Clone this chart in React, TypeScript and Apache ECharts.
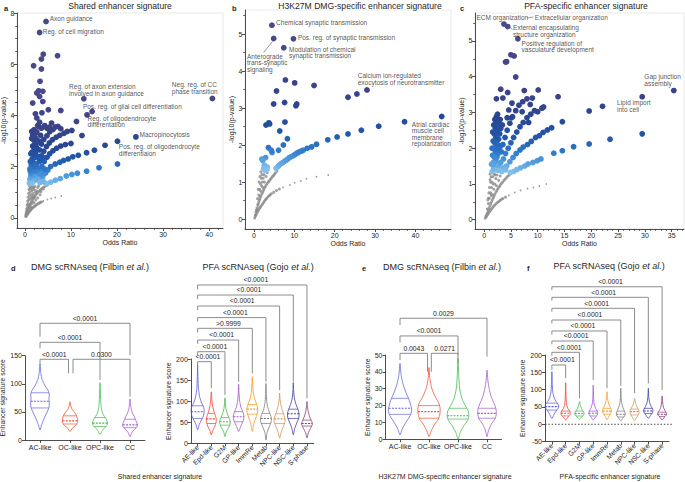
import React, { useEffect, useRef } from "react";
import * as echarts from "echarts";

const FONT = "'Liberation Sans', Arial, Helvetica, sans-serif";
const INK = "#262626";
const AXIS = "#3a3a3a";
const BRACKET = "#7f7f7f";

// ===== Panel a : Shared enhancer signature =====
const aGray = [
  [0.2, 0.05], [0.4, 0.15], [0.6, 0.26], [0.8, 0.37], [1.0, 0.47], [1.3, 0.58], [1.6, 0.68], [1.9, 0.78], [2.3, 0.88], [2.7, 0.97], [3.2, 1.06], [3.7, 1.14], [4.3, 1.22], [4.9, 1.28],
  [0.3, 0.06], [0.5, 0.12], [0.8, 0.2], [1.1, 0.27], [1.4, 0.33], [1.8, 0.4], [2.2, 0.46], [2.6, 0.52], [3.1, 0.57], [3.6, 0.62],
  [0.3, 0.2], [0.4, 0.35], [0.5, 0.5], [0.6, 0.65], [0.7, 0.8], [0.8, 0.95], [0.9, 1.1], [1.0, 1.25], [0.6, 0.4], [0.7, 0.55], [0.9, 0.7], [1.0, 0.85], [1.1, 1.0], [1.2, 1.15], [1.3, 1.28],
  [1.2, 0.75], [1.4, 0.9], [1.5, 1.05], [1.7, 1.2], [1.5, 0.78], [1.8, 0.95], [2.0, 1.1], [2.2, 1.22], [2.1, 0.8], [2.5, 1.05], [2.8, 1.18], [3.0, 1.25], [0.5, 0.3], [0.8, 0.5], [1.2, 0.45],
  [1.6, 0.55], [0.2, 0.12], [0.4, 0.25], [0.9, 0.4], [1.3, 0.4], [2.0, 0.6], [2.4, 0.7], [2.8, 0.78], [3.3, 0.9], [1.7, 0.85], [2.3, 1.0], [3.5, 1.02], [4.0, 1.12],
  [0.5, 0.2], [0.7, 0.32], [0.9, 0.42], [1.15, 0.53], [1.45, 0.63], [1.75, 0.73], [2.1, 0.83], [2.5, 0.93], [2.95, 1.02], [3.45, 1.1], [4.0, 1.18], [4.6, 1.25],
  [0.65, 0.16], [0.95, 0.24], [1.25, 0.3], [1.6, 0.37], [2.0, 0.43], [2.4, 0.49], [2.85, 0.55], [3.35, 0.6], [1.1, 1.15], [1.4, 1.25], [1.6, 1.1], [1.9, 1.18],
];
const aTiny = [[4.0, 0.65], [4.9, 0.71], [5.7, 0.75], [6.6, 0.79], [7.9, 0.85]];
const aSig = [
  [4.6, 1.34], [5.6, 1.39], [6.6, 1.47], [7.7, 1.53], [9.0, 1.63], [10.2, 1.69], [11.4, 1.74], [13.4, 1.82], [16.1, 1.95], [20.1, 2.1],
  [3.4, 1.45], [3.9, 1.6], [4.5, 1.75], [5.0, 1.87], [5.6, 2.0], [6.6, 2.1], [7.6, 2.17], [8.4, 2.24], [9.4, 2.3], [10.4, 2.38], [11.6, 2.44], [13.4, 2.54], [15.1, 2.64], [17.4, 2.83], [20.1, 2.99],
  [2.9, 1.6], [3.3, 1.8], [3.7, 2.0], [4.2, 2.2], [4.8, 2.36], [5.4, 2.5], [6.1, 2.62], [6.9, 2.72], [7.8, 2.8], [8.8, 2.86], [10.0, 2.9],
  [2.5, 1.7], [2.8, 1.95], [3.2, 2.2], [3.6, 2.42], [4.1, 2.6], [4.7, 2.78], [5.3, 2.92], [6.0, 3.05], [6.8, 3.15], [7.6, 3.22], [8.5, 3.3], [9.2, 3.37], [10.2, 3.41], [12.4, 3.21],
  [2.2, 1.8], [2.5, 2.1], [2.8, 2.4], [3.2, 2.65], [3.6, 2.88], [4.1, 3.06], [4.8, 3.2], [5.4, 3.36], [6.1, 3.45], [7.2, 3.57], [7.8, 3.48],
  [11.2, 3.76], [13.5, 4.02], [14.6, 4.15], [12.8, 4.65], [24.1, 3.16], [40.7, 4.66],
  [1.0, 1.35], [1.1, 1.5], [1.3, 1.65], [1.5, 1.8], [1.7, 1.95], [1.9, 2.15], [2.1, 2.35], [2.3, 2.55], [2.5, 2.75], [2.7, 2.95], [1.3, 1.4], [1.5, 1.55], [1.7, 1.7], [1.9, 1.85], [2.1, 2.0],
  [2.3, 1.6], [2.0, 1.45], [1.6, 1.35], [1.2, 1.8], [1.4, 2.05], [1.6, 2.3], [1.8, 2.5], [2.0, 2.7], [2.2, 2.9], [1.5, 2.55], [1.7, 2.8], [1.9, 3.05], [2.4, 3.1], [1.5, 3.1], [1.5, 3.37],
  [2.0, 3.44], [3.0, 3.57], [3.4, 3.22], [4.8, 3.5], [1.7, 3.22], [2.6, 3.35], [3.0, 3.0], [3.9, 2.35], [3.1, 2.3], [2.7, 1.5], [3.3, 1.38], [4.0, 1.42], [3.6, 1.72], [4.3, 1.9], [5.3, 3.54],
  [1.2, 2.2], [1.3, 2.5], [1.1, 1.9], [2.3, 3.3], [2.8, 3.6], [3.6, 3.5], [4.3, 3.6], [5.8, 3.7], [6.6, 3.55],
  [4.6, 7.67], [3.2, 7.24], [4.0, 6.39], [7.1, 6.33], [3.6, 6.2], [1.9, 5.94], [3.6, 5.81], [3.3, 5.33], [3.0, 4.96], [3.9, 4.94], [2.6, 4.87], [3.2, 4.74], [3.9, 4.54], [1.7, 4.48],
  [5.1, 4.22], [7.8, 4.19], [2.3, 4.06], [3.2, 3.73], [2.6, 3.9], [3.7, 4.1],
];
const aNotes: [number, number, string][] = [
  [5.4, 7.8, "Axon guidance"],
  [3.9, 7.28, "Reg. of cell migration"],
  [9.6, 5.0, "Reg. of axon extension\ninvolved in axon guidance"],
  [12.6, 4.36, "Pos. reg. of glial cell differentiation"],
  [13.6, 3.76, "Reg. of oligodendrocyte\ndifferentation"],
  [24.9, 3.25, "Macropinocytosis"],
  [20.4, 2.64, "Pos. reg. of oligodendrocyte\ndifferentiaion"],
  [31.9, 5.07, "Neg. reg. of CC\nphase transition"],
];
const aXTicks = [0, 10, 20, 30, 40];
const aYTicks = [0, 2, 4, 6, 8];

// ===== Panel b : H3K27M DMG-specific enhancer signature =====
const bGray = [
  [0.2, 0.03], [0.5, 0.18], [0.8, 0.3], [1.2, 0.45], [1.5, 0.55], [2.0, 0.68], [2.4, 0.78], [2.8, 0.87], [3.3, 0.96], [3.8, 1.03], [4.3, 1.1], [4.8, 1.17], [5.3, 1.24], [5.7, 1.29],
  [0.4, 0.08], [0.8, 0.17], [1.2, 0.25], [1.6, 0.32], [2.1, 0.4], [2.6, 0.48], [3.1, 0.55], [3.7, 0.62], [4.3, 0.68], [4.9, 0.72], [5.6, 0.77], [6.3, 0.81],
  [1.5, 0.6], [1.7, 0.75], [1.9, 0.9], [2.1, 1.0], [2.3, 1.1], [2.5, 1.2], [1.6, 0.95], [1.8, 1.1], [2.0, 1.2], [1.4, 0.8], [1.2, 0.65], [1.0, 0.4], [0.7, 0.25], [2.2, 0.85], [2.6, 1.0],
  [3.0, 1.15], [3.3, 1.25], [1.3, 1.0], [1.5, 1.15], [1.7, 1.27], [0.9, 0.55], [1.1, 0.8],
  [0.35, 0.1], [0.65, 0.24], [1.0, 0.37], [1.35, 0.5], [1.75, 0.62], [2.2, 0.73], [2.6, 0.83], [3.05, 0.92], [3.55, 1.0], [4.05, 1.07], [4.55, 1.14], [5.05, 1.2],
  [0.6, 0.12], [1.0, 0.21], [1.4, 0.29], [1.85, 0.36], [2.35, 0.44], [2.85, 0.52], [3.4, 0.59], [4.0, 0.65],
];
const bTiny = [[7.2, 0.86], [8.9, 0.92], [10.1, 0.98], [11.6, 1.03], [13.0, 1.09], [15.5, 1.14], [18.4, 1.19]];
const bSig = [
  [4.46, 5.24], [4.9, 4.88], [9.8, 4.87], [7.4, 4.63], [7.8, 3.76], [10.1, 3.68], [14.9, 3.61], [5.6, 3.46], [4.9, 3.11], [7.6, 3.15], [10.4, 3.06], [10.6, 3.11],
  [3.7, 2.6], [3.0, 2.54], [3.9, 2.57], [7.7, 2.62], [6.4, 2.38], [8.3, 2.17], [7.3, 2.0], [3.6, 1.93], [4.5, 1.8], [4.3, 1.86], [6.1, 1.86],
  [2.9, 1.66], [2.0, 1.62], [2.2, 1.58], [2.6, 1.45], [3.0, 1.42], [2.4, 1.36], [3.3, 1.4], [2.7, 1.32], [3.2, 1.33],
  [23.3, 3.29], [25.5, 3.38], [28.0, 3.49],
  [18.3, 2.14], [20.6, 2.22], [23.3, 2.3], [26.6, 2.4], [30.9, 2.51], [37.3, 2.63], [46.5, 2.77],
  [5.5, 1.37], [6.0, 1.42], [6.3, 1.46], [6.8, 1.5], [7.2, 1.53], [7.6, 1.56], [8.0, 1.59], [8.4, 1.62], [8.8, 1.66], [9.2, 1.68], [9.7, 1.71], [10.1, 1.74], [10.5, 1.77], [10.9, 1.79],
  [11.3, 1.82], [11.8, 1.84], [12.2, 1.86], [13.2, 1.91], [14.3, 1.95], [15.5, 2.02],
];
const bNotes: [number, number, string][] = [
  [5.5, 5.31, "Chemical synaptic transmission"],
  [10.9, 4.9, "Pos. reg. of synaptic transmission"],
  [8.7, 4.5, "Modulation of chemical\nsynaptic transmission"],
  [-1.7, 4.22, "Anterograde\ntrans-synaptic\nsignaling"],
  [25.7, 3.78, "Calcium ion-regulated\nexocytosis of neurotransmitter"],
  [39.1, 2.3, "Atrial cardiac\nmuscle cell\nmembrane\nrepolarization"],
];
const bLeaders = [[[4.6, 4.8], [2.4, 4.5]]];
const bXTicks = [0, 10, 20, 30, 40];
const bYTicks = [0, 1, 2, 3, 4, 5];

// ===== Panel c : PFA-specific enhancer signature =====
const cGray = [
  [0.2, 0.04], [0.5, 0.15], [0.8, 0.27], [1.1, 0.39], [1.4, 0.5], [1.7, 0.61], [2.0, 0.71], [2.4, 0.82], [2.8, 0.92], [3.2, 1.01], [3.7, 1.1], [4.2, 1.18], [4.7, 1.25],
  [0.4, 0.08], [0.8, 0.17], [1.2, 0.26], [1.6, 0.34], [2.0, 0.41], [2.5, 0.48], [3.0, 0.54], [3.5, 0.59], [4.0, 0.63],
  [0.6, 0.3], [0.8, 0.45], [1.0, 0.6], [1.2, 0.75], [1.4, 0.9], [1.5, 1.05], [1.6, 1.2], [1.0, 0.9], [1.2, 1.05], [1.3, 1.2], [0.9, 0.75], [1.8, 0.85], [2.0, 1.0], [2.2, 1.15],
  [2.4, 1.25], [1.9, 1.28], [2.7, 1.1], [3.0, 1.22], [1.1, 1.28], [0.7, 0.55], [1.5, 0.7], [2.3, 0.95],
  [0.35, 0.1], [0.65, 0.21], [0.95, 0.33], [1.25, 0.45], [1.55, 0.56], [1.85, 0.66], [2.2, 0.77], [2.6, 0.87], [3.0, 0.96], [3.45, 1.05], [3.95, 1.14], [4.45, 1.22],
  [0.6, 0.13], [1.0, 0.22], [1.4, 0.3], [1.8, 0.38], [2.25, 0.45], [2.75, 0.51], [3.25, 0.57], [0.8, 0.6], [1.1, 1.12], [1.35, 0.68], [1.7, 1.0], [2.0, 1.25],
];
const cTiny = [[4.6, 0.68], [5.7, 0.76], [6.8, 0.82], [8.1, 0.87], [9.2, 0.9], [10.3, 0.94], [11.6, 1.0]];
const cSig = [
  [3.7, 5.47], [4.4, 5.4], [6.3, 5.06], [5.0, 4.61], [5.6, 4.58], [4.0, 4.41], [4.2, 4.42], [5.9, 3.99],
  [3.1, 3.65], [4.4, 3.56], [7.5, 3.61], [10.1, 3.63], [2.3, 3.38], [3.5, 3.4], [5.2, 3.26], [9.0, 3.4], [8.6, 3.22], [13.8, 3.44], [10.8, 3.12], [11.1, 3.15], [4.6, 3.07], [7.1, 3.02],
  [10.0, 3.02], [2.3, 2.88], [2.4, 2.85], [4.3, 2.85], [5.1, 2.85], [8.3, 2.72], [14.6, 2.74],
  [19.6, 3.04], [22.1, 3.17], [29.5, 3.44], [35.4, 3.61], [29.5, 2.4], [23.5, 2.25], [19.6, 2.12], [16.7, 2.04], [14.6, 1.93], [13.0, 1.86],
  [4.9, 1.32], [5.5, 1.35], [6.1, 1.4], [6.8, 1.45], [7.6, 1.5], [8.2, 1.56], [9.1, 1.6], [9.9, 1.65], [10.6, 1.7],
  [4.2, 1.5], [4.8, 1.62], [5.4, 1.74], [6.0, 1.85], [6.7, 1.95], [7.3, 2.03], [8.1, 2.1], [8.8, 2.19], [9.6, 2.3], [10.3, 2.35], [11.0, 2.44], [11.8, 2.51], [12.6, 2.57],
  [3.6, 1.7], [4.0, 1.85], [4.5, 2.0], [5.0, 2.15], [5.5, 2.3], [6.1, 2.45], [6.7, 2.6], [7.3, 2.72], [8.0, 2.85], [8.7, 2.95], [9.4, 3.05],
  [3.2, 1.9], [3.5, 2.1], [3.9, 2.3], [4.3, 2.5], [4.8, 2.7], [5.3, 2.88], [5.9, 3.05], [6.5, 3.2], [7.2, 3.3], [8.0, 3.38],
  [1.5, 1.35], [1.8, 1.45], [2.0, 1.55], [2.2, 1.65], [2.4, 1.75], [2.6, 1.85], [2.8, 1.95], [3.0, 2.05], [1.7, 1.6], [1.9, 1.75], [2.1, 1.9], [2.3, 2.0], [2.5, 2.1], [2.7, 2.25],
  [2.9, 2.4], [3.1, 2.55], [1.6, 1.8], [1.8, 2.0], [2.0, 2.15], [2.2, 2.3], [2.4, 2.45], [2.6, 2.6], [2.8, 2.7], [1.5, 2.0], [1.7, 2.2], [1.9, 2.4], [2.1, 2.55], [2.3, 2.7], [1.6, 2.45],
  [1.8, 2.65], [2.0, 2.8], [2.5, 2.95], [3.0, 2.8], [3.4, 2.65], [1.4, 1.55], [2.3, 1.4], [2.7, 1.5], [3.1, 1.6], [3.5, 1.45], [3.3, 1.35], [2.6, 1.38], [4.0, 1.4],
];
const cNotes: [number, number, string][] = [
  [-1.42, 5.66, "ECM organization"],
  [9.46, 5.66, "Extracellular organization"],
  [5.4, 5.27, "External encapsulating\nstructure organization"],
  [7.0, 4.84, "Positive regulation of\nvasculature development"],
  [29.9, 3.91, "Gap junction\nassembly"],
  [24.8, 3.18, "Lipid import\ninto cell"],
];
const cLeaders = [[[8.0, 5.64], [9.2, 5.67]], [[4.6, 5.4], [5.3, 5.32]]];
const cXTicks = [0, 5, 10, 15, 20, 25, 30, 35];
const cYTicks = [0, 1, 2, 3, 4, 5];

// ===== Violin panels =====
const dmgCats = ["AC-like", "OC-like", "OPC-like", "CC"];
const pfaCats = ["AE-like", "Epd-like", "G2M", "GP-like", "ImmRe", "Metab", "NPC-like", "NSC-like", "S-phase"];
const dmgColors = ["#6666d8", "#ee5535", "#45bb50", "#a35ccb"];
const pfaColors = ["#5b5bd6", "#ee4433", "#44b848", "#9a56cc", "#f7951f", "#7a7a7a", "#c99560", "#3d3ca0", "#8c3a80"];

// d (left): DMG scRNAseq, shared signature  [value, relative half width]
const dShapes = [
  [[18, 0], [28, 0.12], [40, 0.3], [50, 0.48], [58, 0.6], [66, 0.62], [74, 0.6], [82, 0.62], [90, 0.5], [98, 0.3], [108, 0.14], [118, 0.06], [135, 0]],
  [[15, 0], [21, 0.15], [26, 0.38], [31, 0.5], [36, 0.5], [42, 0.46], [48, 0.34], [54, 0.16], [60, 0.06], [68, 0]],
  [[10, 0], [17, 0.15], [23, 0.36], [28, 0.5], [33, 0.48], [39, 0.38], [45, 0.22], [55, 0.1], [68, 0.05], [85, 0.03], [102, 0]],
  [[6, 0], [13, 0.12], [19, 0.3], [24, 0.48], [29, 0.48], [35, 0.38], [41, 0.3], [48, 0.16], [58, 0.06], [73, 0]],
];
const dQuart = [[57, 69, 84], [28.5, 34, 43], [24, 30, 40], [22, 27, 37]];
// [from, to, level, left leg end, right leg end, p, dxFrom, dxTo]
const dBrackets: [number, number, number, number, number, string, number, number][] = [
  [0, 3, 207.7, 183.8, 151, "<0.0001", 0, 0],
  [0, 2, 173.8, 163, 106.8, "<0.0001", 0, 0],
  [0, 1, 143.6, 133.5, 118.7, "<0.0001", 0, -0.05],
  [1, 3, 143.6, 118.7, 77, "0.0300", 0.1, 0],
];

// d (right): PFA scRNAseq, shared signature
const dpShapes = [
  [[32, 0], [45, 0.25], [55, 0.55], [65, 0.85], [75, 0.95], [85, 0.9], [95, 0.6], [110, 0.3], [130, 0.12], [155, 0.05], [186, 0]],
  [[20, 0], [30, 0.2], [40, 0.5], [50, 0.7], [58, 0.72], [66, 0.6], [75, 0.4], [88, 0.2], [100, 0.1], [122, 0]],
  [[16, 0], [28, 0.2], [38, 0.55], [46, 0.75], [52, 0.78], [60, 0.6], [70, 0.35], [82, 0.15], [95, 0.06], [108, 0]],
  [[28, 0], [40, 0.3], [50, 0.6], [58, 0.75], [65, 0.78], [75, 0.6], [85, 0.35], [100, 0.15], [120, 0.05], [140, 0]],
  [[28, 0], [45, 0.2], [60, 0.5], [72, 0.75], [82, 0.8], [92, 0.65], [105, 0.35], [120, 0.15], [140, 0.05], [158, 0]],
  [[8, 0], [25, 0.15], [38, 0.45], [50, 0.75], [58, 0.8], [68, 0.65], [80, 0.35], [95, 0.15], [115, 0.05], [142, 0]],
  [[12, 0], [25, 0.2], [38, 0.5], [50, 0.78], [58, 0.8], [66, 0.65], [78, 0.4], [92, 0.18], [105, 0.06], [119, 0]],
  [[20, 0], [35, 0.2], [48, 0.5], [60, 0.8], [70, 0.85], [80, 0.7], [92, 0.4], [105, 0.18], [125, 0.05], [144, 0]],
  [[13, 0], [25, 0.2], [35, 0.5], [43, 0.75], [48, 0.78], [55, 0.6], [65, 0.35], [78, 0.15], [90, 0.05], [99, 0]],
];
const dpQuart = [[59, 75, 89], [47, 58, 71], [43, 51, 61], [51, 63, 75], [69, 81, 92], [47, 59, 71], [47, 58, 70], [59, 70, 81], [41, 47, 55]];
const dpBrackets: [number, number, number, number, number, string, number, number][] = [
  [0, 8, 375.6, 365, 106.8, "<0.0001", 0, 0],
  [0, 7, 351.8, 342, 146, "<0.0001", 0, 0],
  [0, 6, 325.7, 316, 126, "<0.0001", 0, 0],
  [0, 5, 298.2, 289, 146, "<0.0001", 0, 0],
  [0, 4, 272.8, 263, 166, ">0.9999", 0, 0],
  [0, 3, 245, 236, 146, "<0.0001", 0, 0],
  [0, 2, 217.3, 208, 114.6, "<0.0001", 0, 0],
  [0, 1, 193.6, 184, 130.5, "<0.0001", 0, 0],
];

// e: DMG scRNAseq, H3K27M DMG-specific signature
const eShapes = [
  [[2.6, 0], [6, 0.15], [10, 0.4], [14, 0.7], [17, 0.8], [20, 0.75], [24, 0.6], [28, 0.4], [33, 0.2], [38, 0.08], [45, 0]],
  [[1.6, 0], [5, 0.15], [9, 0.4], [12, 0.65], [15, 0.75], [18, 0.77], [21, 0.7], [25, 0.45], [30, 0.2], [36, 0.06], [42.5, 0]],
  [[0, 0], [4, 0.15], [8, 0.4], [11, 0.65], [14, 0.75], [17, 0.7], [20, 0.5], [24, 0.28], [30, 0.12], [38, 0.05], [48, 0]],
  [[1.6, 0], [5, 0.1], [9, 0.3], [12, 0.55], [15, 0.64], [18, 0.62], [21, 0.5], [25, 0.3], [30, 0.15], [35, 0.06], [41, 0]],
];
const eQuart = [[14.8, 18.4, 24.3], [12.5, 16.4, 20], [12, 14, 18.4], [12.5, 15.4, 18.4]];
const eBrackets: [number, number, number, number, number, string, number, number][] = [
  [0, 3, 71.8, 67.8, 49, "0.0029", 0, 0],
  [0, 2, 61.3, 57.5, 50, "<0.0001", 0, 0],
  [0, 1, 51, 47, 40.1, "0.0043", 0, -0.05],
  [1, 2, 51, 40.1, 45.3, "0.0271", 0.08, 0],
];

// f: PFA scRNAseq, PFA-specific signature
const fShapes = [
  [[17, 0], [28, 0.3], [38, 0.6], [46, 0.9], [52, 1.0], [58, 0.9], [66, 0.6], [78, 0.3], [95, 0.12], [120, 0.05], [152, 0]],
  [[12.5, 0], [20, 0.3], [26, 0.6], [32, 0.68], [38, 0.6], [45, 0.35], [55, 0.15], [70, 0.08], [90, 0.04], [120, 0]],
  [[15, 0], [20, 0.25], [25, 0.55], [30, 0.68], [35, 0.62], [42, 0.4], [50, 0.2], [58, 0.08], [65, 0]],
  [[12.5, 0], [20, 0.3], [26, 0.55], [32, 0.65], [38, 0.58], [46, 0.35], [58, 0.15], [75, 0.06], [95, 0.03], [113, 0]],
  [[12.5, 0], [22, 0.25], [30, 0.5], [37, 0.65], [44, 0.6], [52, 0.4], [62, 0.2], [75, 0.08], [94, 0]],
  [[10, 0], [18, 0.3], [24, 0.55], [30, 0.65], [36, 0.58], [44, 0.4], [55, 0.2], [70, 0.07], [85, 0.03], [104, 0]],
  [[10.5, 0], [18, 0.25], [26, 0.5], [34, 0.65], [40, 0.62], [47, 0.45], [55, 0.25], [65, 0.1], [75, 0]],
  [[17, 0], [25, 0.3], [32, 0.55], [38, 0.68], [44, 0.62], [52, 0.4], [62, 0.2], [78, 0.07], [104, 0]],
  [[12.5, 0], [20, 0.3], [25, 0.55], [29, 0.65], [34, 0.6], [40, 0.4], [50, 0.18], [65, 0.06], [82, 0]],
];
const fQuart = [[41, 51, 61], [24, 32, 38], [24, 31, 38], [24, 32, 38], [29, 38, 46], [21, 29, 38], [27, 36.5, 44], [31, 38.5, 46], [22, 29, 35]];
const fBrackets: [number, number, number, number, number, string, number, number][] = [
  [0, 8, 397, 387, 99, "<0.0001", 0, 0],
  [0, 7, 366.5, 357, 118, "<0.0001", 0, 0],
  [0, 6, 334.8, 325, 89.5, "<0.0001", 0, 0],
  [0, 5, 301, 291, 111, "<0.0001", 0, 0],
  [0, 4, 269.3, 259, 104, "<0.0001", 0, 0],
  [0, 3, 240.4, 231, 128, "<0.0001", 0, 0],
  [0, 2, 207.8, 198, 75, "<0.0001", 0, 0],
  [0, 1, 171.1, 157, 133, "<0.0001", 0, 0],
];

// ---------- helpers ----------
const SIG_STOPS: [number, number[]][] = [
  [1.3, [140, 196, 236]],
  [1.6, [82, 158, 222]],
  [1.9, [46, 120, 200]],
  [2.3, [34, 88, 170]],
  [2.8, [42, 70, 146]],
  [3.5, [58, 67, 136]],
  [5.0, [74, 73, 136]],
];
function sigColor(y: number): string {
  const rgb = (c: number[]) => `rgb(${c.map((v) => Math.round(v)).join(",")})`;
  if (y <= SIG_STOPS[0][0]) return rgb(SIG_STOPS[0][1]);
  for (let i = 1; i < SIG_STOPS.length; i++) {
    if (y <= SIG_STOPS[i][0]) {
      const [y0, c0] = SIG_STOPS[i - 1];
      const [y1, c1] = SIG_STOPS[i];
      const t = (y - y0) / (y1 - y0);
      return rgb(c0.map((v, k) => v + (c1[k] - v) * t));
    }
  }
  return rgb(SIG_STOPS[SIG_STOPS.length - 1][1]);
}
function steps(from: number, to: number, step: number, skip: number[]) {
  const out: number[] = [];
  for (let v = from; v <= to + 1e-9; v += step) {
    const r = +v.toFixed(4);
    if (!skip.some((m) => Math.abs(m - r) < 1e-6)) out.push(r);
  }
  return out;
}
const txt = (extra: any = {}) => ({ fontFamily: FONT, color: INK, ...extra });

function buildOption() {
  const grids: any[] = [];
  const xAxes: any[] = [];
  const yAxes: any[] = [];
  const series: any[] = [];

  function scatterPanel(p: any) {
    const g = grids.length;
    grids.push({
      left: p.box[0], top: p.box[1], width: p.box[2], height: p.box[3],
      show: true, borderColor: "#e3e3e3", borderWidth: 0.8, backgroundColor: "transparent",
      containLabel: false, outerBoundsMode: "none",
    });
    const xi = xAxes.length;
    const yi = yAxes.length;
    const line = { show: true, onZero: false, lineStyle: { color: AXIS, width: 0.9 } };
    xAxes.push({
      gridIndex: g, type: "value", position: "bottom", min: p.x[0], max: p.x[1],
      axisLine: line, splitLine: { show: false },
      axisTick: { show: true, customValues: p.xTicks, length: 3, lineStyle: { color: AXIS, width: 0.9 } },
      axisLabel: { customValues: p.xTicks, fontSize: 7, margin: 2.5, ...txt() },
      name: "Odds Ratio", nameLocation: "middle", nameGap: 11, nameTextStyle: txt({ fontSize: 7 }),
    });
    xAxes.push({
      gridIndex: g, type: "value", position: "bottom", min: p.x[0], max: p.x[1],
      axisLine: { show: false, onZero: false }, splitLine: { show: false }, axisLabel: { show: false },
      axisTick: { show: true, customValues: steps(0, p.x[1], p.xMinor, p.xTicks), length: 1.8, lineStyle: { color: AXIS, width: 0.8 } },
    });
    yAxes.push({
      gridIndex: g, type: "value", position: "left", min: p.y[0], max: p.y[1],
      axisLine: line, splitLine: { show: false },
      axisTick: { show: true, customValues: p.yTicks, length: 3, lineStyle: { color: AXIS, width: 0.9 } },
      axisLabel: { customValues: p.yTicks, fontSize: 7, margin: 2.5, ...txt() },
      name: "-log10(p-value)", nameLocation: "middle", nameGap: 9, nameRotate: 90, nameTextStyle: txt({ fontSize: 7 }),
    });
    yAxes.push({
      gridIndex: g, type: "value", position: "left", min: p.y[0], max: p.y[1],
      axisLine: { show: false, onZero: false }, splitLine: { show: false }, axisLabel: { show: false },
      axisTick: { show: true, customValues: steps(0, p.y[1], p.yMinor, p.yTicks), length: 1.8, lineStyle: { color: AXIS, width: 0.8 } },
    });
    const ax = { xAxisIndex: xi, yAxisIndex: yi, silent: true };
    series.push({ type: "scatter", ...ax, data: p.gray, symbolSize: 3, itemStyle: { color: "#8b8b8b" } });
    series.push({ type: "scatter", ...ax, data: p.tiny, symbolSize: 1.8, itemStyle: { color: "#8b8b8b" } });
    series.push({
      type: "scatter", ...ax, data: p.sig, symbolSize: 5.8,
      itemStyle: { color: (d: any) => sigColor(d.value[1]), opacity: 1 },
    });
    (p.leaders || []).forEach((seg: number[][]) => {
      series.push({ type: "line", ...ax, data: seg, symbol: "none", lineStyle: { color: "#555", width: 0.6 } });
    });
    series.push({
      type: "scatter", ...ax, symbolSize: 0,
      data: p.notes.map((n: any) => ({ value: [n[0], n[1]], label: { formatter: n[2] } })),
      label: { show: true, position: "right", distance: 0, fontSize: 6.5, lineHeight: 6.6, ...txt({ color: "#1e1e1e" }) },
    });
  }

  scatterPanel({ box: [17, 13, 206, 215], x: [-1.7, 43], y: [-0.4, 8], xTicks: aXTicks, yTicks: aYTicks, xMinor: 2, yMinor: 0.5, gray: aGray, tiny: aTiny, sig: aSig, notes: aNotes });
  scatterPanel({ box: [245, 10, 206, 219], x: [-2.2, 48.8], y: [-0.27, 5.65], xTicks: bXTicks, yTicks: bYTicks, xMinor: 2, yMinor: 0.5, gray: bGray, tiny: bTiny, sig: bSig, notes: bNotes, leaders: bLeaders });
  scatterPanel({ box: [475, 13, 209, 216], x: [-1.7, 37.3], y: [-0.26, 5.78], xTicks: cXTicks, yTicks: cYTicks, xMinor: 1, yMinor: 0.5, gray: cGray, tiny: cTiny, sig: cSig, notes: cNotes, leaders: cLeaders });

  function violinPanel(p: any) {
    const g = grids.length;
    grids.push({ left: p.box[0], top: p.box[1], width: p.box[2], height: p.box[3], containLabel: false, outerBoundsMode: "none" });
    const xi = xAxes.length;
    const yi = yAxes.length;
    xAxes.push({
      gridIndex: g, type: "category", data: p.cats, boundaryGap: true,
      axisLine: { show: true, onZero: false, lineStyle: { color: AXIS, width: 0.9 } },
      axisTick: { show: true, alignWithLabel: true, length: 3, lineStyle: { color: AXIS, width: 0.9 } },
      axisLabel: p.rotate
        ? { rotate: 45, fontSize: 6.8, margin: 3, interval: 0, ...txt() }
        : { fontSize: 7, margin: 4, interval: 0, ...txt() },
      splitLine: { show: false },
    });
    yAxes.push({
      gridIndex: g, type: "value", min: p.y[0], max: p.y[1], interval: p.y[2],
      axisLine: { show: true, onZero: false, lineStyle: { color: AXIS, width: 0.9 } },
      axisTick: { show: true, length: 3, lineStyle: { color: AXIS, width: 0.9 } },
      axisLabel: { fontSize: 7, margin: 3, ...txt() },
      splitLine: { show: false },
      name: "Enhancer signature score", nameLocation: "middle", nameRotate: 90, nameGap: p.nameGap,
      nameTextStyle: txt({ fontSize: 6.8 }),
    });
    const shapes = p.shapes;
    const quarts = p.quarts;
    const colors = p.colors;
    series.push({
      type: "custom", xAxisIndex: xi, yAxisIndex: yi, silent: true, clip: false,
      data: p.cats.map((_: string, i: number) => [i, shapes[i][shapes[i].length - 1][0]]),
      renderItem: (params: any, api: any) => {
        const i = params.dataIndex;
        const shape: number[][] = shapes[i];
        const cx = api.coord([i, 0])[0];
        const half = api.size([1, 0])[0] / 2;
        const right = shape.map(([v, w]) => [cx + w * half, api.coord([i, v])[1]]);
        const left = shape.slice(1, -1).reverse().map(([v, w]) => [cx - w * half, api.coord([i, v])[1]]);
        const widthAt = (val: number) => {
          for (let k = 1; k < shape.length; k++) {
            if (val <= shape[k][0]) {
              const t = (val - shape[k - 1][0]) / (shape[k][0] - shape[k - 1][0]);
              return shape[k - 1][1] + (shape[k][1] - shape[k - 1][1]) * t;
            }
          }
          return 0;
        };
        const color = colors[i];
        const children: any[] = [];
        if (p.zeroLine && i === 0) {
          const cs = params.coordSys;
          const y0 = api.coord([0, 0])[1];
          children.push({
            type: "line", shape: { x1: cs.x, y1: y0, x2: cs.x + cs.width + 4, y2: y0 },
            style: { stroke: "#333", lineWidth: 0.9, lineDash: [1.5, 1.8] },
          });
        }
        children.push({
          type: "polygon", shape: { points: right.concat(left), smooth: 0.25 },
          style: { fill: "none", stroke: color, lineWidth: 0.8 },
        });
        quarts[i].forEach((q: number, k: number) => {
          const w = widthAt(q) * half;
          const y = api.coord([i, q])[1];
          children.push({
            type: "line", shape: { x1: cx - w, y1: y, x2: cx + w, y2: y },
            style: { stroke: color, lineWidth: k === 1 ? 1.1 : 0.7, lineDash: k === 1 ? [2, 1.2] : null },
          });
        });
        return { type: "group", children };
      },
    });
    const brackets = p.brackets;
    series.push({
      type: "custom", xAxisIndex: xi, yAxisIndex: yi, silent: true, clip: false,
      data: brackets.map((b: any) => [b[0], b[2]]),
      renderItem: (params: any, api: any) => {
        const [from, to, level, legA, legB, text, dxA, dxB] = brackets[params.dataIndex];
        const band = api.size([1, 0])[0];
        const xA = api.coord([from, 0])[0] + dxA * band;
        const xB = api.coord([to, 0])[0] + dxB * band;
        const yL = api.coord([from, level])[1];
        const yA = api.coord([from, legA])[1];
        const yB = api.coord([from, legB])[1];
        return {
          type: "group",
          children: [
            { type: "polyline", shape: { points: [[xA, yA], [xA, yL], [xB, yL], [xB, yB]] }, style: { fill: "none", stroke: BRACKET, lineWidth: 0.9 } },
            { type: "text", x: (xA + xB) / 2 + p.labelDx, y: yL - 1.6, style: { text, fill: INK, fontSize: 6.8, fontFamily: FONT, align: "center", verticalAlign: "bottom" } },
          ],
        };
      },
    });
  }

  violinPanel({ box: [25, 355.7, 120, 84.3], cats: dmgCats, colors: dmgColors, y: [0, 150, 50], shapes: dShapes, quarts: dQuart, brackets: dBrackets, nameGap: 15, labelDx: 0 });
  violinPanel({ box: [190.8, 359, 123, 84.3], cats: pfaCats, colors: pfaColors, y: [0, 200, 50], shapes: dpShapes, quarts: dpQuart, brackets: dpBrackets, nameGap: 15, labelDx: 3.5, rotate: true });
  violinPanel({ box: [385.5, 355, 116, 84.3], cats: dmgCats, colors: dmgColors, y: [0, 50, 10], shapes: eShapes, quarts: eQuart, brackets: eBrackets, nameGap: 15, labelDx: 0 });
  violinPanel({ box: [545, 355, 124, 86.6], cats: pfaCats, colors: pfaColors, y: [-50, 200, 50], shapes: fShapes, quarts: fQuart, brackets: fBrackets, nameGap: 15, labelDx: 3.5, rotate: true, zeroLine: true });

  const T = (x: number, y: number, text: string, size: number, extra: any = {}) => ({
    type: "text", x, y, silent: true,
    style: { text, fontSize: size, fontFamily: FONT, fill: INK, align: "center", verticalAlign: "middle", ...extra },
  });
  const richTitle = (x: number, y: number, pre: string) =>
    T(x, y, `{n|${pre} }{i|et al.}{n|)}`, 9, {
      rich: {
        n: { fontSize: 9, fontFamily: FONT, fill: INK },
        i: { fontSize: 9, fontFamily: FONT, fill: INK, fontStyle: "italic" },
      },
    });
  const graphic = [
    T(120, 6, "Shared enhancer signature", 8.6),
    T(360, 6, "H3K27M DMG-specific enhancer signature", 8.6),
    T(586, 6, "PFA-specific enhancer signature", 8.6),
    T(4, 8, "a", 7.5, { fontWeight: "bold", align: "left" }),
    T(232, 8, "b", 7.5, { fontWeight: "bold", align: "left" }),
    T(460, 8, "c", 7.5, { fontWeight: "bold", align: "left" }),
    T(11, 268, "d", 7.5, { fontWeight: "bold", align: "left" }),
    T(362, 268, "e", 7.5, { fontWeight: "bold", align: "left" }),
    T(527, 268, "f", 7.5, { fontWeight: "bold", align: "left" }),
    richTitle(90, 267, "DMG scRNAseq (Filbin"),
    richTitle(258, 267, "PFA scRNAseq (Gojo"),
    richTitle(442, 267, "DMG scRNAseq (Filbin"),
    richTitle(609, 266, "PFA scRNAseq (Gojo"),
    T(160, 476, "Shared enhancer signature", 7),
    T(445, 476, "H3K27M DMG-specific enhancer signature", 7),
    T(610, 476, "PFA-specific enhancer signature", 7),
  ];

  return {
    animation: false,
    backgroundColor: "#ffffff",
    textStyle: { fontFamily: FONT },
    grid: grids,
    xAxis: xAxes,
    yAxis: yAxes,
    series,
    graphic,
  };
}

export default function App() {
  const ref = useRef<HTMLDivElement>(null);
  useEffect(() => {
    document.body.style.margin = "0";
    const chart = echarts.init(ref.current!, null, { renderer: "svg" });
    chart.setOption(buildOption() as any);
    return () => chart.dispose();
  }, []);
  return <div ref={ref} style={{ width: 685, height: 482, background: "#fff" }} />;
}
